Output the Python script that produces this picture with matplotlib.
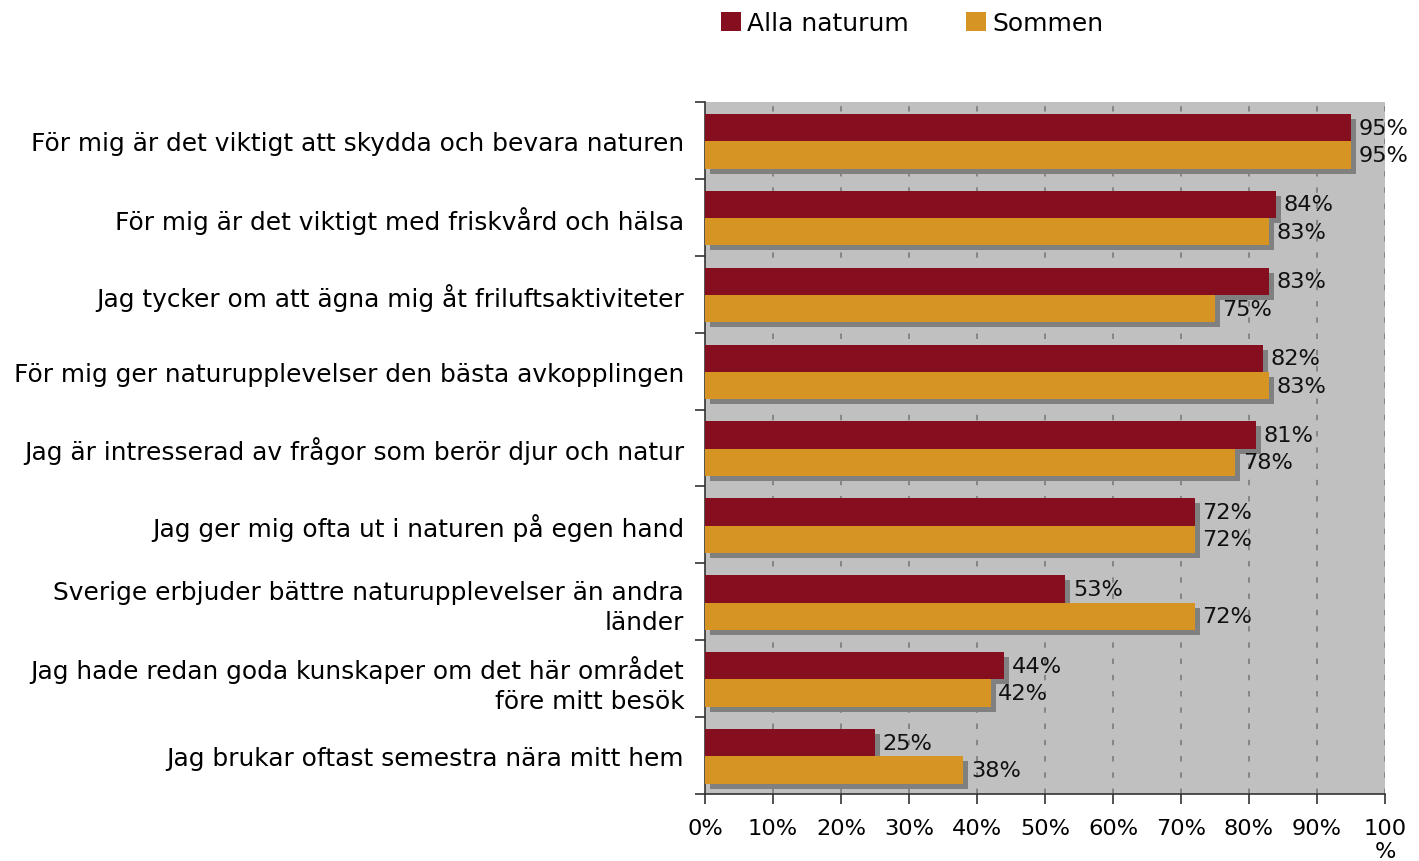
import numpy as np
import matplotlib
matplotlib.use("Agg")
import matplotlib.pyplot as plt
from matplotlib.patches import Patch

plt.rcParams['font.family'] = ['DejaVu Sans']

# Data
kategorier = [
    "För mig är det viktigt att skydda och bevara naturen",
    "För mig är det viktigt med friskvård och hälsa",
    "Jag tycker om att ägna mig åt friluftsaktiviteter",
    "För mig ger naturupplevelser den bästa avkopplingen",
    "Jag är intresserad av frågor som berör djur och natur",
    "Jag ger mig ofta ut i naturen på egen hand",
    "Sverige erbjuder bättre naturupplevelser än andra\nländer",
    "Jag hade redan goda kunskaper om det här området\nföre mitt besök",
    "Jag brukar oftast semestra nära mitt hem",
]
alla_naturum = [95, 84, 83, 82, 81, 72, 53, 44, 25]
sommen = [95, 83, 75, 83, 78, 72, 72, 42, 38]
serier = ["Alla naturum", "Sommen"]
xticks = [0, 10, 20, 30, 40, 50, 60, 70, 80, 90, 100]
xtick_labels = ["0%", "10%", "20%", "30%", "40%", "50%", "60%", "70%", "80%", "90%", "100\n%"]

rod = '#860F1F'
orange = '#D69522'
skugga = '#808080'

fig = plt.figure(figsize=(14.19, 8.62), dpi=100)
ax = fig.add_axes([0.4968, 0.0777, 0.4792, 0.8028])
ax.set_facecolor('#C0C0C0')

y = np.arange(len(kategorier)) + 0.01
h = 0.355
off = 0.178
dx, dy = 0.75, 0.065

# Skuggor
ax.barh(y - off + dy, alla_naturum, height=h, left=dx, color=skugga, zorder=2)
ax.barh(y + off + dy, sommen, height=h, left=dx, color=skugga, zorder=2)
# Staplar
ax.barh(y - off, alla_naturum, height=h, color=rod, zorder=3, label=serier[0])
ax.barh(y + off, sommen, height=h, color=orange, zorder=3, label=serier[1])

# Etiketter
for i in range(len(kategorier)):
    ax.text(alla_naturum[i] + 1.1, y[i] - off, f"{alla_naturum[i]}%", va='center', ha='left',
            fontsize=16.2, color='#111111', zorder=4)
    ax.text(sommen[i] + 1.1, y[i] + off, f"{sommen[i]}%", va='center', ha='left',
            fontsize=16.2, color='#111111', zorder=4)

ax.set_xlim(0, 100)
ax.set_ylim(len(kategorier) - 0.5, -0.5)

ax.set_xticks(xticks)
ax.set_xticklabels(xtick_labels, fontsize=16.2, linespacing=1.2)
ax.set_yticks(np.arange(len(kategorier)))
ax.set_yticklabels(kategorier, fontsize=17.9, linespacing=1.3)
ax.tick_params(axis='y', length=0, pad=15)
ax.set_yticks(np.arange(-0.5, len(kategorier), 1), minor=True)
ax.tick_params(axis='y', which='minor', length=7, width=1.2, color='#333333')
ax.tick_params(axis='x', length=7, width=1.2, color='#333333', pad=10)

for v in xticks[1:]:
    ax.axvline(v, color='#808080', linestyle=(0, (3, 6)), linewidth=1.3, zorder=1)

for s in ['top', 'right']:
    ax.spines[s].set_visible(False)
for s in ['left', 'bottom']:
    ax.spines[s].set_color('#333333')
    ax.spines[s].set_linewidth(1.2)

handles = [Patch(facecolor=rod), Patch(facecolor=orange)]
fig.legend(handles, serier, loc='upper center', bbox_to_anchor=(0.643, 1.012), ncol=2,
           frameon=False, fontsize=18, handlelength=0.8, handleheight=0.8,
           handletextpad=0.25, columnspacing=2.3)

fig.savefig('out.png', dpi=100)
